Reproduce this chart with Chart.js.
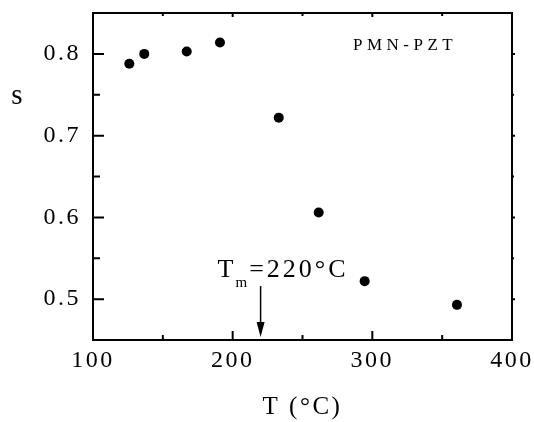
<!DOCTYPE html>
<html><head><meta charset="utf-8">
<script src="https://cdn.jsdelivr.net/npm/chart.js@4.4.0/dist/chart.umd.min.js"></script>
<style>html,body{margin:0;padding:0;background:#fff}</style>
</head><body>
<canvas id="c" width="534" height="422"></canvas>
<script>
// ---- data ----
const temperatures = [126.0, 136.7, 167.1, 190.9, 233.0, 261.6, 294.5, 360.6];
const sValues      = [0.788, 0.800, 0.803, 0.814, 0.722, 0.606, 0.522, 0.493];
const xTicks       = [100, 200, 300, 400];
const xTickLabels  = ['100', '200', '300', '400'];
const xMinorTicks  = [150, 250, 350];
const yTicks       = [0.5, 0.6, 0.7, 0.8];
const yTickLabels  = ['0.5', '0.6', '0.7', '0.8'];
const yMinorTicks  = [0.55, 0.65, 0.75];
const meltingTemp  = 220;
const sampleLabel  = 'PMN-PZT';

const FONT = '"Liberation Serif", "Times New Roman", serif';

const framePlugin = {
  id: 'frame',
  beforeLayout(chart) { chart.ctx.letterSpacing = '2.5px'; },
  beforeDraw(chart) {
    const ctx = chart.ctx;
    ctx.save();
    ctx.fillStyle = '#fff';
    ctx.fillRect(0, 0, chart.width, chart.height);
    ctx.restore();
    ctx.letterSpacing = '2.5px';
  },
  afterDraw(chart) {
    const { ctx, chartArea: a, scales: { x, y } } = chart;
    ctx.save();
    ctx.strokeStyle = '#000';
    ctx.fillStyle = '#000';
    ctx.lineWidth = 2;
    ctx.strokeRect(a.left, a.top, a.right - a.left, a.bottom - a.top);
    ctx.beginPath();
    const seg = (x1, y1, x2, y2) => { ctx.moveTo(x1, y1); ctx.lineTo(x2, y2); };
    xTicks.forEach(v => { const p = x.getPixelForValue(v); seg(p, a.bottom, p, a.bottom - 9); seg(p, a.top, p, a.top + 4); });
    xMinorTicks.forEach(v => { const p = x.getPixelForValue(v); seg(p, a.bottom, p, a.bottom - 5); seg(p, a.top, p, a.top + 3); });
    yTicks.forEach(v => { const p = y.getPixelForValue(v); seg(a.left, p, a.left + 11, p); seg(a.right, p, a.right + 3, p); });
    yMinorTicks.forEach(v => { const p = y.getPixelForValue(v); seg(a.left, p, a.left + 7, p); seg(a.right, p, a.right + 2, p); });
    ctx.stroke();

    // y axis title (upright)
    ctx.letterSpacing = '0px';
    ctx.textAlign = 'center';
    ctx.textBaseline = 'alphabetic';
    ctx.font = '29px ' + FONT;
    ctx.fillText('s', a.left - 76, y.getPixelForValue(0.75) + 9);

    // sample label
    ctx.textAlign = 'left';
    ctx.font = '17px ' + FONT;
    ctx.letterSpacing = '4.5px';
    ctx.fillText(sampleLabel, a.left + 260, a.top + 37);

    // T_m annotation
    const px = x.getPixelForValue(meltingTemp);
    const base = y.getPixelForValue(0.527);
    let tx = px - 43;
    ctx.letterSpacing = '0px';
    ctx.font = '26px ' + FONT;
    ctx.fillText('T', tx, base);
    tx += ctx.measureText('T').width + 2;
    ctx.font = '15px ' + FONT;
    ctx.fillText('m', tx, base + 10);
    tx += ctx.measureText('m').width + 2;
    ctx.font = '26px ' + FONT;
    ctx.letterSpacing = '3px';
    ctx.fillText('=' + meltingTemp + '°C', tx, base);

    // arrow
    const top = base + 9, tip = a.bottom - 3;
    ctx.lineWidth = 1.5;
    ctx.beginPath();
    ctx.moveTo(px, top); ctx.lineTo(px, tip - 10);
    ctx.stroke();
    ctx.beginPath();
    ctx.moveTo(px - 4, tip - 15); ctx.lineTo(px + 4, tip - 15); ctx.lineTo(px, tip);
    ctx.closePath(); ctx.fill();
    ctx.restore();
  }
};

new Chart(document.getElementById('c'), {
  type: 'scatter',
  data: {
    datasets: [{
      data: temperatures.map((t, i) => ({ x: t, y: sValues[i] })),
      backgroundColor: '#000',
      borderColor: '#000',
      pointRadius: 5,
      pointHoverRadius: 5,
      borderWidth: 0
    }]
  },
  options: {
    responsive: false,
    animation: false,
    devicePixelRatio: 1,
    layout: { padding: { left: 0, right: 22, top: 13, bottom: 0 } },
    plugins: { legend: { display: false }, tooltip: { enabled: false } },
    scales: {
      x: {
        type: 'linear', min: 100, max: 400, position: 'bottom',
        grid: { display: false, drawTicks: false },
        border: { display: false },
        afterBuildTicks(s) { s.ticks = xTicks.map(v => ({ value: v })); },
        afterFit(s) { s.height = 82; s.paddingLeft = 0; s.paddingRight = 0; },
        ticks: {
          color: '#000', padding: 6, maxRotation: 0, autoSkip: false,
          font: { family: FONT, size: 24 },
          callback: v => xTickLabels[xTicks.indexOf(v)]
        },
        title: {
          display: true, text: 'T (°C)', color: '#000',
          font: { family: FONT, size: 25 }, padding: { top: 0, bottom: 0 }
        }
      },
      y: {
        type: 'linear', min: 0.45, max: 0.85,
        grid: { display: false, drawTicks: false },
        border: { display: false },
        afterBuildTicks(s) { s.ticks = yTicks.map(v => ({ value: v })); },
        afterFit(s) { s.width = 93; s.paddingTop = 0; s.paddingBottom = 0; },
        ticks: {
          color: '#000', padding: 12, autoSkip: false,
          font: { family: FONT, size: 24 },
          callback: v => yTickLabels[yTicks.indexOf(v)]
        }
      }
    }
  },
  plugins: [framePlugin]
});
</script>
</body></html>
